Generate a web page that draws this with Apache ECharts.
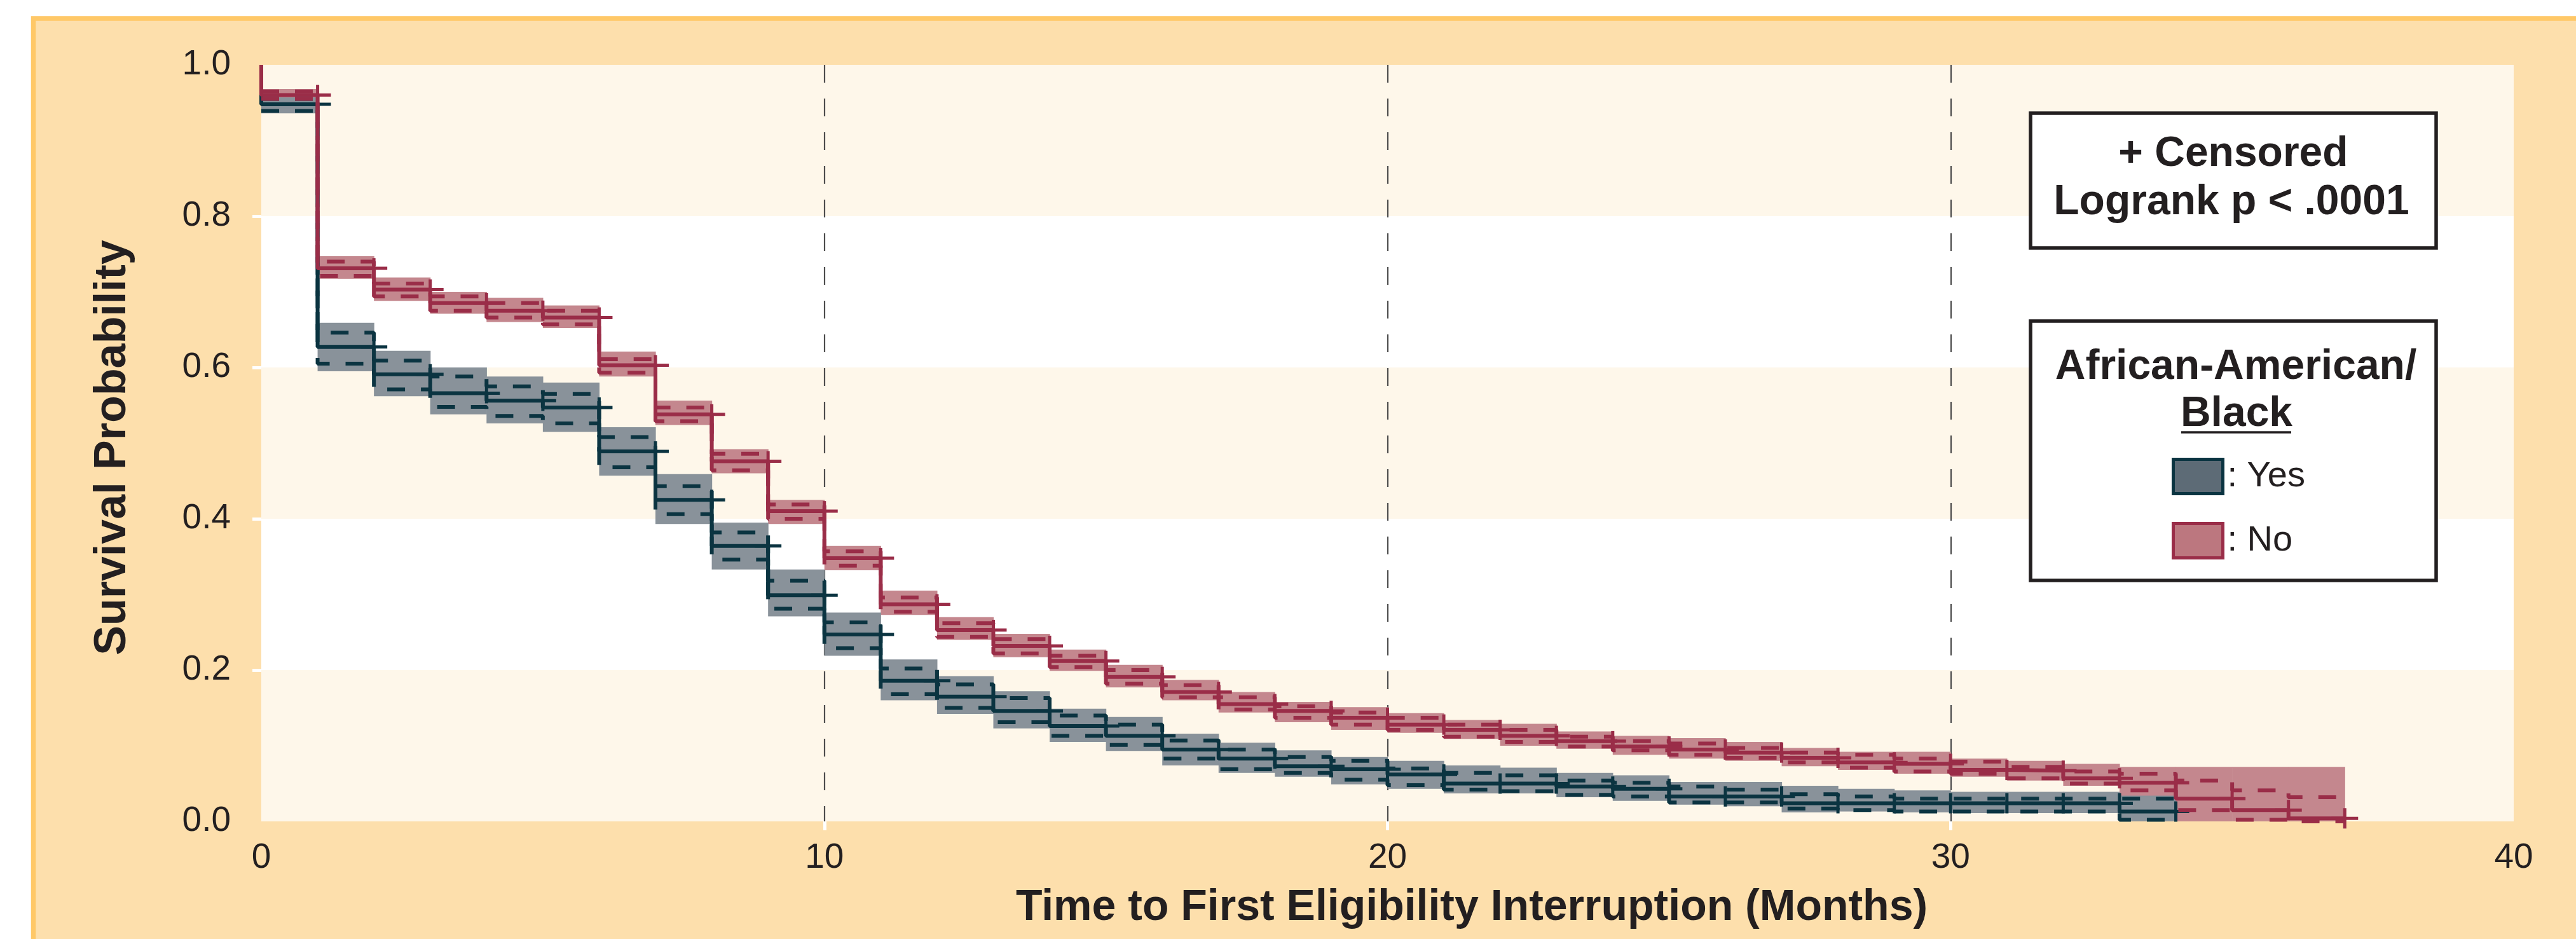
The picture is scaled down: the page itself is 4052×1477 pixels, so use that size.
<!DOCTYPE html>
<html>
<head>
<meta charset="utf-8">
<script src="https://cdn.jsdelivr.net/npm/echarts@6/dist/echarts.min.js"></script>
<style>
  html, body { margin: 0; padding: 0; background: #ffffff; }
  #chart { width: 4052px; height: 1477px; }
</style>
</head>
<body>
<div id="chart"></div>
<script>
// ---------------- data ----------------
const xTicks = [0, 10, 20, 30, 40];
const yTicks = [0.0, 0.2, 0.4, 0.6, 0.8, 1.0];

// interval start month for each step (value holds from month to month+1)
const monthsNo  = [0,1,2,3,4,5,6,7,8,9,10,11,12,13,14,15,16,17,18,19,20,21,22,23,24,25,26,27,28,29,30,31,32,33,34,35,36];
const monthsYes = [0,1,2,3,4,5,6,7,8,9,10,11,12,13,14,15,16,17,18,19,20,21,22,23,24,25,26,27,28,29,30,31,32,33];

// Not African-American/Black ("No")
const survNo   = [0.960,0.731,0.703,0.685,0.675,0.666,0.603,0.538,0.476,0.410,0.348,0.287,0.253,0.232,0.212,0.191,0.171,0.155,0.146,0.137,0.128,0.121,0.113,0.106,0.099,0.095,0.091,0.084,0.078,0.076,0.068,0.067,0.057,0.051,0.030,0.015,0.004];
const clUpNo   = [0.965,0.740,0.711,0.694,0.685,0.675,0.611,0.547,0.486,0.419,0.357,0.296,0.262,0.241,0.219,0.200,0.180,0.164,0.152,0.144,0.137,0.128,0.121,0.112,0.106,0.103,0.097,0.091,0.088,0.083,0.079,0.072,0.066,0.063,0.054,0.041,0.032];
const clLoNo   = [0.955,0.721,0.694,0.675,0.666,0.657,0.593,0.529,0.464,0.400,0.338,0.277,0.244,0.222,0.204,0.182,0.164,0.148,0.137,0.128,0.121,0.112,0.105,0.099,0.094,0.088,0.084,0.078,0.071,0.066,0.063,0.057,0.050,0.041,0.015,0.002,0.000];
const bandUpNo = [0.968,0.747,0.719,0.700,0.692,0.682,0.621,0.556,0.492,0.425,0.364,0.305,0.270,0.248,0.227,0.207,0.187,0.171,0.158,0.151,0.143,0.134,0.129,0.119,0.113,0.110,0.105,0.097,0.092,0.092,0.083,0.080,0.076,0.072,0.072,0.072,0.072];
const bandLoNo = [0.954,0.717,0.688,0.671,0.660,0.652,0.588,0.524,0.460,0.393,0.332,0.273,0.240,0.217,0.199,0.177,0.160,0.144,0.131,0.121,0.117,0.109,0.100,0.096,0.088,0.083,0.080,0.073,0.068,0.063,0.059,0.054,0.047,0.000,0.000,0.000,0.000];

// African-American/Black ("Yes")
const survYes   = [0.948,0.627,0.591,0.566,0.556,0.547,0.489,0.425,0.364,0.299,0.247,0.186,0.165,0.146,0.126,0.113,0.095,0.083,0.073,0.069,0.062,0.050,0.050,0.046,0.043,0.033,0.033,0.024,0.024,0.024,0.024,0.024,0.024,0.013];
const clUpYes   = [0.955,0.646,0.609,0.588,0.575,0.565,0.508,0.443,0.382,0.318,0.263,0.202,0.181,0.163,0.140,0.128,0.107,0.095,0.085,0.080,0.070,0.064,0.061,0.054,0.051,0.046,0.042,0.036,0.033,0.030,0.030,0.030,0.030,0.030];
const clLoYes   = [0.939,0.605,0.571,0.548,0.536,0.526,0.468,0.406,0.346,0.281,0.229,0.168,0.150,0.131,0.113,0.101,0.083,0.069,0.064,0.055,0.048,0.042,0.040,0.035,0.033,0.025,0.025,0.017,0.015,0.013,0.013,0.013,0.013,0.002];
const bandUpYes = [0.957,0.659,0.622,0.600,0.588,0.580,0.521,0.459,0.395,0.333,0.276,0.214,0.192,0.172,0.149,0.138,0.116,0.104,0.094,0.085,0.080,0.074,0.071,0.064,0.061,0.052,0.052,0.047,0.043,0.041,0.039,0.039,0.039,0.034];
const bandLoYes = [0.936,0.595,0.562,0.538,0.526,0.515,0.457,0.393,0.333,0.271,0.219,0.160,0.142,0.123,0.105,0.093,0.074,0.064,0.059,0.049,0.043,0.037,0.037,0.032,0.027,0.022,0.020,0.012,0.013,0.012,0.011,0.011,0.011,0.000];

// ---------------- styling ----------------
const RED = '#9A2D48', RED_BAND = '#C4878E', RED_SWATCH = '#BC777F';
const BLUE = '#0B3441', BLUE_BAND = '#89929A', BLUE_SWATCH = '#5D6B76';
const INK = '#231F20';
const FONT = '"Liberation Sans", Arial, sans-serif';

// ---------------- helpers building series data from arrays ----------------
function stepLine(months, vals, startAtOne) {
  const d = [];
  if (startAtOne) d.push([months[0], 1.0]);
  months.forEach((m, i) => d.push([m, vals[i]]));
  d.push([months[months.length - 1] + 1, vals[vals.length - 1]]);
  return d;
}
function bandData(months, lo, hi) {
  return months.map((m, i) => [m, m + 1, lo[i], hi[i]]);
}
function censorData(months, vals) {
  return months.map((m, i) => [m + 1, vals[i]]);
}
function bandSeries(name, months, lo, hi, color) {
  return {
    name: name, type: 'custom', silent: true,
    data: bandData(months, lo, hi),
    encode: { x: [0, 1], y: [2, 3] },
    itemStyle: { color: color },
    renderItem: function (params, api) {
      const p1 = api.coord([api.value(0), api.value(3)]);
      const p2 = api.coord([api.value(1), api.value(2)]);
      return { type: 'rect',
        shape: { x: p1[0], y: p1[1], width: p2[0] - p1[0] + 0.6, height: p2[1] - p1[1] },
        style: { fill: color } };
    }
  };
}
function censorSeries(name, months, vals, color) {
  return {
    name: name, type: 'custom', silent: true,
    data: censorData(months, vals),
    encode: { x: 0, y: 1 },
    itemStyle: { color: color },
    renderItem: function (params, api) {
      const p = api.coord([api.value(0), api.value(1)]);
      const st = { stroke: color, lineWidth: 5 };
      return { type: 'group', children: [
        { type: 'line', shape: { x1: p[0] - 21, y1: p[1], x2: p[0] + 21, y2: p[1] }, style: st },
        { type: 'line', shape: { x1: p[0], y1: p[1] - 16, x2: p[0], y2: p[1] + 16 }, style: st }
      ] };
    }
  };
}
function clSeries(name, months, vals, color) {
  return {
    name: name, type: 'line', step: 'end', symbol: 'none', silent: true,
    data: stepLine(months, vals, false),
    lineStyle: { color: color, width: 6, type: [28, 25] },
    itemStyle: { color: color }
  };
}
function survSeries(name, months, vals, color) {
  return {
    name: name, type: 'line', step: 'end', symbol: 'none', silent: true,
    data: stepLine(months, vals, true),
    lineStyle: { color: color, width: 6 },
    itemStyle: { color: color }
  };
}

const chart = echarts.init(document.getElementById('chart'), null, { renderer: 'canvas' });

const option = {
  animation: false,
  backgroundColor: '#ffffff',
  grid: { left: 411, top: 102, right: 98, bottom: 185, containLabel: false, outerBoundsMode: 'none' },
  xAxis: {
    type: 'value', min: xTicks[0], max: xTicks[xTicks.length - 1], interval: 10,
    axisLine: { show: false },
    axisTick: { show: true, length: 14, customValues: xTicks.slice(1, -1),
                lineStyle: { color: '#ffffff', width: 5 } },
    axisLabel: { margin: 30, fontSize: 55, color: INK, fontFamily: FONT, customValues: xTicks },
    splitLine: { show: true,
                 lineStyle: { color: '#4d4d4d', width: 2.2, type: [28, 25] } }
  },
  yAxis: [{
    type: 'value', min: yTicks[0], max: yTicks[yTicks.length - 1], interval: 0.2,
    axisLine: { show: false },
    axisTick: { show: false },
    axisLabel: { margin: 48, fontSize: 55, color: INK, fontFamily: FONT,
                 padding: [0, 0, 12, 0],
                 formatter: v => v.toFixed(1) },
    splitLine: { show: false },
    splitArea: { show: true, areaStyle: { color: ['#FEF7EA', '#FFFFFF'] } }
  }, {
    // only carries the white inner tick marks
    type: 'value', position: 'left', min: yTicks[0], max: yTicks[yTicks.length - 1], interval: 0.2,
    axisLine: { show: false },
    axisTick: { show: true, length: 14, customValues: yTicks.slice(1, -1),
                lineStyle: { color: '#ffffff', width: 5 } },
    axisLabel: { show: false },
    splitLine: { show: false },
    splitArea: { show: false }
  }],
  legend: {
    orient: 'vertical', left: 3416, top: 720, padding: 0, z: 6,
    itemWidth: 78, itemHeight: 54, itemGap: 42,
    selectedMode: false,
    formatter: ': {name}',
    textStyle: { fontSize: 56, color: INK, fontFamily: FONT, padding: [0, 0, 0, 2] },
    data: [
      { name: 'Yes', icon: 'rect', itemStyle: { color: BLUE_SWATCH, borderColor: BLUE, borderWidth: 5 } },
      { name: 'No',  icon: 'rect', itemStyle: { color: RED_SWATCH, borderColor: RED, borderWidth: 5 } }
    ]
  },
  graphic: { elements: [
    // outer orange frame
    { type: 'rect', z: -10, silent: true,
      shape: { x: 52.5, y: 29, width: 4200, height: 1600 },
      style: { fill: '#FDDFAC', stroke: '#FFC867', lineWidth: 7.5 } },
    // axis titles
    { type: 'text', z: 5, x: 178, y: 704, rotation: Math.PI / 2, silent: true,
      style: { text: 'Survival Probability', fontSize: 70, fontWeight: 'bold', fontFamily: FONT,
               fill: INK, align: 'center', verticalAlign: 'middle' } },
    { type: 'text', z: 5, x: 2315, y: 1428, silent: true,
      style: { text: 'Time to First Eligibility Interruption (Months)', fontSize: 68, fontWeight: 'bold',
               fontFamily: FONT, fill: INK, align: 'center', verticalAlign: 'middle' } },
    // info box
    { type: 'rect', z: 3, silent: true,
      shape: { x: 3194, y: 178, width: 638, height: 212 },
      style: { fill: '#ffffff', stroke: INK, lineWidth: 5.5 } },
    { type: 'text', z: 5, x: 3513, y: 243, silent: true,
      style: { text: '+ Censored', fontSize: 66, fontWeight: 'bold', fontFamily: FONT,
               fill: INK, align: 'center', verticalAlign: 'middle' } },
    { type: 'text', z: 5, x: 3510, y: 319, silent: true,
      style: { text: 'Logrank p < .0001', fontSize: 66, fontWeight: 'bold', fontFamily: FONT,
               fill: INK, align: 'center', verticalAlign: 'middle' } },
    // legend box
    { type: 'rect', z: 3, silent: true,
      shape: { x: 3194, y: 505, width: 638, height: 408 },
      style: { fill: '#ffffff', stroke: INK, lineWidth: 5.5 } },
    { type: 'text', z: 5, x: 3517, y: 578, silent: true,
      style: { text: 'African-American/', fontSize: 66, fontWeight: 'bold', fontFamily: FONT,
               fill: INK, align: 'center', verticalAlign: 'middle' } },
    { type: 'text', z: 5, x: 3518, y: 652, silent: true,
      style: { text: 'Black', fontSize: 66, fontWeight: 'bold', fontFamily: FONT,
               fill: INK, align: 'center', verticalAlign: 'middle' } },
    { type: 'line', z: 5, silent: true,
      shape: { x1: 3431, y1: 680, x2: 3604, y2: 680 },
      style: { stroke: INK, lineWidth: 3.5 } }
  ] },
  series: [
    bandSeries('No', monthsNo, bandLoNo, bandUpNo, RED_BAND),
    bandSeries('Yes', monthsYes, bandLoYes, bandUpYes, BLUE_BAND),
    clSeries('Yes', monthsYes, clUpYes, BLUE),
    clSeries('Yes', monthsYes, clLoYes, BLUE),
    survSeries('Yes', monthsYes, survYes, BLUE),
    censorSeries('Yes', monthsYes, survYes, BLUE),
    clSeries('No', monthsNo, clUpNo, RED),
    clSeries('No', monthsNo, clLoNo, RED),
    survSeries('No', monthsNo, survNo, RED),
    censorSeries('No', monthsNo, survNo, RED)
  ]
};
chart.setOption(option);
</script>
</body>
</html>
